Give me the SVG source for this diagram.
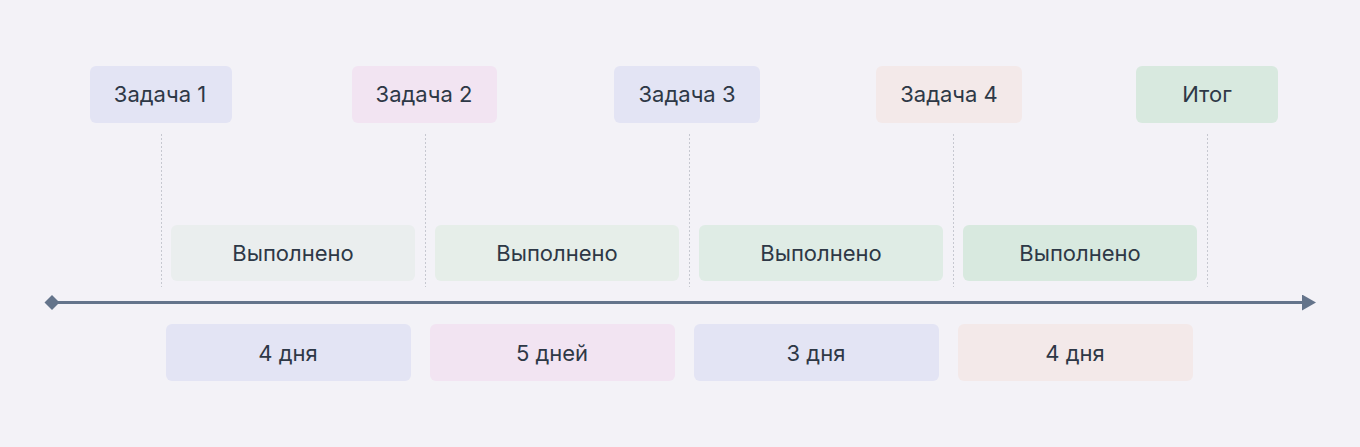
<svg xmlns="http://www.w3.org/2000/svg" width="1360" height="447" viewBox="0 0 1360 447">
  <style>
    .lbl { font-family: Inter, "Noto Sans", "Liberation Sans", sans-serif; font-size: 22px; font-weight: 400; fill: #2e3846; text-anchor: middle; }
    .guide { stroke: #c6c8d0; stroke-width: 1; stroke-dasharray: 2 2; fill: none; }
    .axis { stroke: #64748b; stroke-width: 3; fill: none; }
  </style>
  <defs>
    <marker id="arrow" viewBox="0 0 14 16" refX="0" refY="8" markerWidth="14" markerHeight="16" markerUnits="userSpaceOnUse" orient="auto">
      <path d="M0,0 L14,8 L0,16 Z" fill="#64748b"/>
    </marker>
  </defs>
  <rect width="1360" height="447" fill="#f3f2f7"/>

  <g id="guides">
    <line class="guide" x1="161.5" y1="134" x2="161.5" y2="287"/>
    <line class="guide" x1="425.5" y1="134" x2="425.5" y2="287"/>
    <line class="guide" x1="689.5" y1="134" x2="689.5" y2="287"/>
    <line class="guide" x1="953.5" y1="134" x2="953.5" y2="287"/>
    <line class="guide" x1="1207.5" y1="134" x2="1207.5" y2="287"/>
  </g>

  <g id="connectors">
    <line class="axis" x1="52" y1="302.5" x2="1302" y2="302.5" marker-end="url(#arrow)"/>
    <path d="M52,295 L59.5,302.5 L52,310 L44.5,302.5 Z" fill="#64748b"/>
  </g>

  <g id="task1"><rect x="90" y="66" width="142" height="57" rx="6" fill="#e3e4f4"/><text class="lbl" x="160" y="102">Задача 1</text></g>
  <g id="task2"><rect x="352" y="66" width="145" height="57" rx="6" fill="#f2e4f2"/><text class="lbl" x="424" y="102">Задача 2</text></g>
  <g id="task3"><rect x="614" y="66" width="146" height="57" rx="6" fill="#e3e4f4"/><text class="lbl" x="687" y="102">Задача 3</text></g>
  <g id="task4"><rect x="876" y="66" width="146" height="57" rx="6" fill="#f3e9e9"/><text class="lbl" x="949" y="102">Задача 4</text></g>
  <g id="result"><rect x="1136" y="66" width="142" height="57" rx="6" fill="#d8e9df"/><text class="lbl" x="1207" y="102">Итог</text></g>

  <g id="done1"><rect x="171" y="225" width="244" height="56" rx="6" fill="#eaeeee"/><text class="lbl" x="293" y="261">Выполнено</text></g>
  <g id="done2"><rect x="435" y="225" width="244" height="56" rx="6" fill="#e6eee9"/><text class="lbl" x="557" y="261">Выполнено</text></g>
  <g id="done3"><rect x="699" y="225" width="244" height="56" rx="6" fill="#dfece5"/><text class="lbl" x="821" y="261">Выполнено</text></g>
  <g id="done4"><rect x="963" y="225" width="234" height="56" rx="6" fill="#d8e9df"/><text class="lbl" x="1080" y="261">Выполнено</text></g>

  <g id="dur1"><rect x="166" y="324" width="245" height="57" rx="6" fill="#e3e4f4"/><text class="lbl" x="288" y="361">4 дня</text></g>
  <g id="dur2"><rect x="430" y="324" width="245" height="57" rx="6" fill="#f2e4f2"/><text class="lbl" x="552" y="361">5 дней</text></g>
  <g id="dur3"><rect x="694" y="324" width="245" height="57" rx="6" fill="#e3e4f4"/><text class="lbl" x="816" y="361">3 дня</text></g>
  <g id="dur4"><rect x="958" y="324" width="235" height="57" rx="6" fill="#f3e9e9"/><text class="lbl" x="1075" y="361">4 дня</text></g>
</svg>
